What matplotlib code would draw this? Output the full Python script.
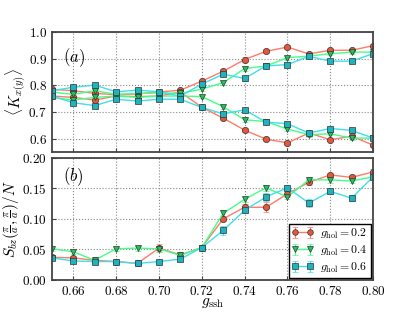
import numpy as np
import matplotlib
matplotlib.use('Agg')
import matplotlib.pyplot as plt

plt.rcParams['mathtext.fontset'] = 'cm'
plt.rcParams['font.family'] = 'serif'
plt.rcParams['font.serif'] = ['DejaVu Serif']

g_ssh = [0.65, 0.66, 0.67, 0.68, 0.69, 0.70, 0.71, 0.72,
         0.73, 0.74, 0.75, 0.76, 0.77, 0.78, 0.79, 0.80]
g_hol_labels = ['0.2', '0.4', '0.6']

# panel (a): <K_x(y)>, two branches per g_hol
k_hi_02 = [0.785, 0.780, 0.770, 0.765, 0.768, 0.775, 0.782, 0.816,
           0.853, 0.897, 0.928, 0.944, 0.918, 0.932, 0.932, 0.949]
k_lo_02 = [0.760, 0.755, 0.745, 0.760, 0.758, 0.760, 0.775, 0.718,
           0.677, 0.632, 0.598, 0.584, 0.621, 0.596, 0.609, 0.576]
k_hi_04 = [0.775, 0.766, 0.780, 0.766, 0.770, 0.772, 0.770, 0.786,
           0.810, 0.863, 0.873, 0.904, 0.910, 0.919, 0.925, 0.925]
k_lo_04 = [0.755, 0.745, 0.755, 0.760, 0.755, 0.760, 0.760, 0.758,
           0.720, 0.671, 0.664, 0.636, 0.615, 0.618, 0.602, 0.602]
k_hi_06 = [0.780, 0.793, 0.801, 0.776, 0.782, 0.776, 0.760, 0.805,
           0.842, 0.826, 0.873, 0.878, 0.909, 0.891, 0.891, 0.919]
k_lo_06 = [0.760, 0.735, 0.724, 0.748, 0.741, 0.748, 0.748, 0.717,
           0.693, 0.708, 0.662, 0.656, 0.621, 0.638, 0.631, 0.602]
k_err = [0.006, 0.006, 0.006, 0.006, 0.006, 0.006, 0.006, 0.006,
         0.008, 0.008, 0.008, 0.008, 0.008, 0.006, 0.006, 0.006]

# panel (b): S_bz(pi/a, pi/a)/N
s_02 = [0.037, 0.036, 0.032, 0.030, 0.027, 0.052, 0.041, 0.053,
        0.100, 0.119, 0.119, 0.141, 0.160, 0.172, 0.168, 0.177]
s_04 = [0.051, 0.046, 0.032, 0.051, 0.052, 0.051, 0.040, 0.053,
        0.109, 0.132, 0.151, 0.136, 0.164, 0.164, 0.162, 0.169]
s_06 = [0.036, 0.031, 0.030, 0.030, 0.027, 0.030, 0.034, 0.053,
        0.081, 0.114, 0.136, 0.151, 0.126, 0.145, 0.134, 0.169]
s_err_02 = [0.003, 0.003, 0.002, 0.002, 0.002, 0.006, 0.003, 0.003,
            0.004, 0.005, 0.008, 0.005, 0.005, 0.004, 0.004, 0.004]
s_err_04 = [0.004, 0.003, 0.002, 0.003, 0.004, 0.005, 0.003, 0.003,
            0.006, 0.004, 0.005, 0.004, 0.004, 0.005, 0.004, 0.004]
s_err_06 = [0.002, 0.002, 0.002, 0.002, 0.002, 0.002, 0.002, 0.003,
            0.008, 0.005, 0.006, 0.004, 0.006, 0.004, 0.005, 0.004]

styles = [('o', '#e8563a', '#ff7b6b'),
          ('v', '#22c45a', '#44ff88'),
          ('s', '#1db4c0', '#3fe0e8')]

fig = plt.figure(figsize=(4.15, 3.12), dpi=100)
ax1 = fig.add_axes([0.125, 0.513, 0.774, 0.384])
ax2 = fig.add_axes([0.125, 0.103, 0.774, 0.391])

k_hi = [k_hi_02, k_hi_04, k_hi_06]
k_lo = [k_lo_02, k_lo_04, k_lo_06]
s_all = [s_02, s_04, s_06]
s_err = [s_err_02, s_err_04, s_err_06]

for i, (m, mc, lc) in enumerate(styles):
    ms = 4.5 if m != 'v' else 5
    for branch in (k_hi[i], k_lo[i]):
        ax1.errorbar(g_ssh, branch, yerr=k_err, color=lc, ecolor=lc, lw=1.0,
                     marker=m, ms=ms, mfc=mc, mec='#333333', mew=0.5,
                     capsize=2, elinewidth=0.8)
    ax2.errorbar(g_ssh, s_all[i], yerr=s_err[i], color=lc, ecolor=lc, lw=1.0,
                 marker=m, ms=ms, mfc=mc, mec='#333333', mew=0.5,
                 capsize=2, elinewidth=0.8,
                 label=r'$g_{\rm hol} = %s$' % g_hol_labels[i])

xt = [0.66, 0.68, 0.70, 0.72, 0.74, 0.76, 0.78, 0.80]
for ax in (ax1, ax2):
    ax.set_xlim(0.65, 0.80)
    ax.grid(True, ls=':', color='#888888', lw=0.8)
    for sp in ax.spines.values():
        sp.set_linewidth(1.3)
        sp.set_color('#444444')
    ax.tick_params(labelsize=9.5, direction='in', length=3, color='#444444', pad=3.5)
    ax.set_xticks(xt)

ax1.set_ylim(0.55, 1.0)
k_ticks = [0.6, 0.7, 0.8, 0.9, 1.0]
ax1.set_yticks(k_ticks)
ax1.set_yticklabels(['$%.1f$' % v for v in k_ticks])
ax1.set_xticklabels([])
ax1.set_ylabel(r'$\langle K_{x(y)} \rangle$', fontsize=11)
ax1.text(0.655, 0.905, r'$(a)$', fontsize=12, va='center')

ax2.set_ylim(0.0, 0.20)
s_ticks = [0.0, 0.05, 0.10, 0.15, 0.20]
ax2.set_yticks(s_ticks)
ax2.set_yticklabels(['$%.2f$' % v for v in s_ticks])
ax2.set_xticklabels(['$%.2f$' % v for v in xt])
ax2.set_ylabel(r'$S_{bz}(\frac{\pi}{a},\frac{\pi}{a})/N$', fontsize=11)
ax2.set_xlabel(r'$g_{\rm ssh}$', fontsize=11)
ax2.text(0.655, 0.17, r'$(b)$', fontsize=12, va='center')

ax1.yaxis.set_label_coords(-0.07, 0.5)
ax2.yaxis.set_label_coords(-0.095, 0.5)
ax2.xaxis.set_label_coords(0.5, -0.13)

leg = ax2.legend(loc='lower right', fontsize=8.5, fancybox=False, framealpha=1,
                 borderaxespad=0.2, handlelength=1.8, numpoints=2,
                 labelspacing=0.25, borderpad=0.25, handletextpad=0.6,
                 markerscale=0.9)
leg.get_frame().set_edgecolor('black')
leg.get_frame().set_linewidth(1.0)

fig.savefig('out.png', dpi=100)
